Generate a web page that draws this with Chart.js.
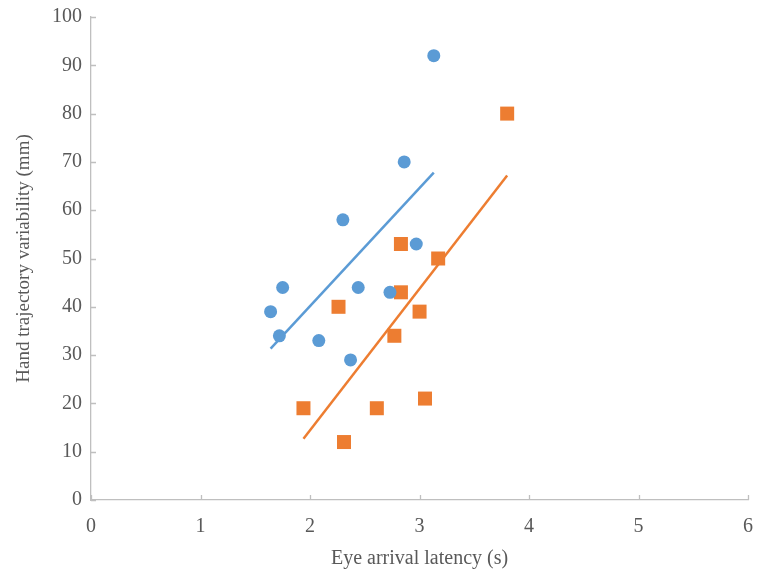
<!DOCTYPE html>
<html>
<head>
<meta charset="utf-8">
<script src="https://cdn.jsdelivr.net/npm/chart.js@4"></script>
<style>
  html, body { margin: 0; padding: 0; background: #fff; }
  #wrap { width: 758px; height: 575px; }
</style>
</head>
<body>
<div id="wrap"><canvas id="my-chart" width="758" height="575"></canvas></div>
<script>
// blue circles
const blueX = [1.64, 1.75, 1.72, 2.08, 2.30, 2.37, 2.44, 2.73, 2.86, 2.97, 3.13];
const blueY = [39, 44, 34, 33, 58, 29, 44, 43, 70, 53, 92];
// orange squares
const orangeX = [1.94, 2.26, 2.31, 2.61, 2.77, 2.83, 2.83, 3.00, 3.05, 3.17, 3.80];
const orangeY = [19, 40, 12, 19, 34, 53, 43, 39, 21, 50, 80];

const xTicks = [0, 1, 2, 3, 4, 5, 6];
const yTicks = [0, 10, 20, 30, 40, 50, 60, 70, 80, 90, 100];

const toPoints = (xs, ys) => xs.map((x, i) => ({ x: x, y: ys[i] }));

// least squares line between the smallest and largest x
function trend(xs, ys) {
  const n = xs.length;
  const mx = xs.reduce((a, b) => a + b, 0) / n;
  const my = ys.reduce((a, b) => a + b, 0) / n;
  let sxy = 0, sxx = 0;
  xs.forEach((x, i) => { sxy += (x - mx) * (ys[i] - my); sxx += (x - mx) * (x - mx); });
  const b = sxy / sxx;
  const x0 = Math.min(...xs), x1 = Math.max(...xs);
  return [{ x: x0, y: my + b * (x0 - mx) }, { x: x1, y: my + b * (x1 - mx) }];
}

const blue = '#5B9BD5';
const orange = '#ED7D31';
const axisGray = '#BFBFBF';
const textGray = '#595959';
const serif = "'Liberation Serif', 'Times New Roman', serif";
const font = { family: serif, size: 20 };

// Excel style tick marks pointing into the plot
const innerTicks = {
  id: 'innerTicks',
  afterDraw(chart) {
    const ctx = chart.ctx;
    const xs = chart.scales.x, ys = chart.scales.y;
    ctx.save();
    ctx.strokeStyle = axisGray;
    ctx.lineWidth = 1.3;
    ctx.beginPath();
    xTicks.forEach(v => {
      const px = Math.round(xs.getPixelForValue(v)) + 0.5;
      ctx.moveTo(px, ys.bottom);
      ctx.lineTo(px, ys.bottom - 5);
    });
    yTicks.forEach(v => {
      const py = Math.round(ys.getPixelForValue(v)) + 0.5;
      ctx.moveTo(xs.left, py);
      ctx.lineTo(xs.left + 5, py);
    });
    ctx.stroke();
    ctx.restore();
  }
};

const ctx = document.getElementById('my-chart').getContext('2d');
const chart = new Chart(ctx, {
  type: 'scatter',
  data: {
    datasets: [
      {
        label: 'trend blue',
        data: trend(blueX, blueY),
        showLine: true,
        borderColor: blue,
        borderWidth: 2.5,
        pointRadius: 0,
        order: 2
      },
      {
        label: 'trend orange',
        data: trend(orangeX, orangeY),
        showLine: true,
        borderColor: orange,
        borderWidth: 2.5,
        pointRadius: 0,
        order: 2
      },
      {
        label: 'blue',
        data: toPoints(blueX, blueY),
        pointStyle: 'circle',
        pointRadius: 6.5,
        backgroundColor: blue,
        borderColor: blue,
        borderWidth: 0,
        order: 1
      },
      {
        label: 'orange',
        data: toPoints(orangeX, orangeY),
        pointStyle: 'rect',
        pointRadius: 9.9,
        backgroundColor: orange,
        borderColor: orange,
        borderWidth: 0,
        order: 1
      }
    ]
  },
  options: {
    responsive: false,
    animation: false,
    layout: { padding: { left: 0, right: 6, top: 17, bottom: 0 } },
    plugins: { legend: { display: false }, tooltip: { enabled: false } },
    scales: {
      x: {
        type: 'linear',
        min: 0, max: 6,
        afterFit: s => { s.height = 75; s.paddingLeft = 0; s.paddingRight = 0; },
        afterBuildTicks: s => { s.ticks = xTicks.map(v => ({ value: v })); },
        ticks: { color: textGray, font: font, padding: 15 },
        grid: { drawOnChartArea: false, drawTicks: false },
        border: { color: axisGray, width: 1.3 },
        title: { display: true, text: 'Eye arrival latency (s)', color: textGray, font: font, padding: { top: 4 } }
      },
      y: {
        type: 'linear',
        min: 0, max: 100,
        afterFit: s => { s.width = 91; s.paddingTop = 0; s.paddingBottom = 0; },
        afterBuildTicks: s => { s.ticks = yTicks.map(v => ({ value: v })); },
        ticks: { color: textGray, font: font, padding: 9 },
        grid: { drawOnChartArea: false, drawTicks: false },
        border: { color: axisGray, width: 1.3 },
        title: { display: true, text: 'Hand trajectory variability (mm)', color: textGray, font: { family: serif, size: 19 }, padding: { top: 13, bottom: 4 } }
      }
    }
  },
  plugins: [innerTicks]
});
</script>
</body>
</html>
